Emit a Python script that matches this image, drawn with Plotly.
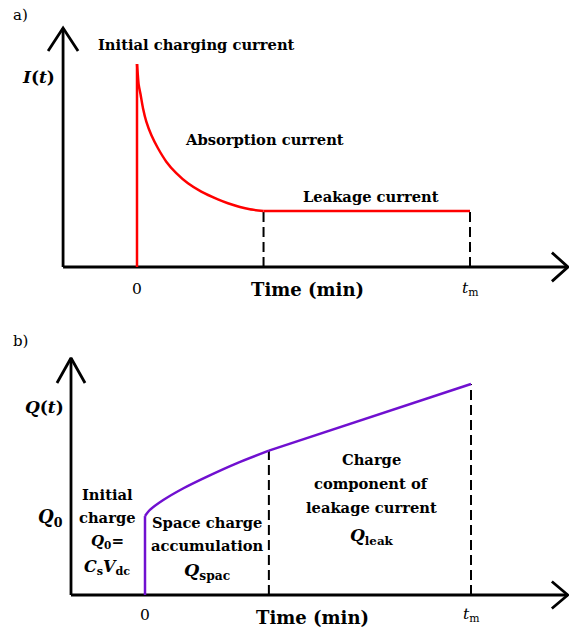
import plotly.graph_objects as go

# ---------------- data ----------------
# panel a: current vs time (arbitrary units, t_m = 10)
t_charge = [0, 0]
i_charge = [0, 10.0]
t_absorb = [0, 0.05, 0.11, 0.18, 0.28, 0.43, 0.63, 0.88, 1.18, 1.53, 1.93, 2.43, 2.73, 3.39, 3.8]
i_absorb = [10.0, 8.98, 8.47, 7.82, 7.16, 6.50, 5.85, 5.19, 4.62, 4.12, 3.71, 3.33, 3.14, 2.84, 2.76]
t_leak = [3.8, 10.0]
i_leak = [2.76, 2.76]

# panel b: charge vs time
t_q0 = [0, 0]
q_q0 = [0, 3.74]
t_spac = [0, 0.15, 0.56, 1.18, 1.89, 2.81, 3.8]
q_spac = [3.74, 4.03, 4.50, 5.06, 5.60, 6.24, 6.84]
t_qleak = [3.8, 10.0]
q_qleak = [6.84, 10.0]

tick_vals = [0, 10.0]
tick_labels = ["0", "<i>t</i><sub>m</sub>"]
x_title = "<b>Time (min)</b>"

W, H = 569, 630
FONT = "DejaVu Serif"

fig = go.Figure()

RED = "#FF0000"
PURPLE = "#7010D0"
DASH = "10px,5px"

def add(xa, ya, x, y, color, width=2.5, dash=None, shape="linear", smoothing=1):
    fig.add_trace(go.Scatter(
        x=x, y=y, xaxis=xa, yaxis=ya, mode="lines",
        line=dict(color=color, width=width, dash=dash, shape=shape, smoothing=smoothing),
        hoverinfo="skip", showlegend=False))

# ---- panel a axes (33.3 px per t unit, 20.3 px per I unit)
ax_a = -2.22
add("x", "y", [ax_a, 12.94], [0, 0], "black", 2.8)
add("x", "y", [ax_a, ax_a], [0, 11.77], "black", 2.8)
add("x", "y", [ax_a - 0.45, ax_a, ax_a + 0.45], [11.77 - 1.13, 11.77, 11.77 - 1.13], "black", 2.8)
add("x", "y", [12.94 - 0.48, 12.94, 12.94 - 0.48], [0.71, 0, -0.71], "black", 2.8)

add("x", "y", [t_leak[0], t_leak[0]], [0, i_leak[0]], "black", 2, DASH)
add("x", "y", [t_leak[1], t_leak[1]], [0, i_leak[1]], "black", 2, DASH)
add("x", "y", t_charge, i_charge, RED)
add("x", "y", t_absorb, i_absorb, RED, shape="spline", smoothing=0.4)
add("x", "y", t_leak, i_leak, RED)

# ---- panel b axes (32.6 px per t unit, 21.1 px per Q unit)
ax_b = -2.27
add("x2", "y2", [ax_b, 12.97], [0, 0], "black", 2.8)
add("x2", "y2", [ax_b, ax_b], [0, 11.23], "black", 2.8)
add("x2", "y2", [ax_b - 0.43, ax_b, ax_b + 0.43], [11.23 - 1.18, 11.23, 11.23 - 1.18], "black", 2.8)
add("x2", "y2", [12.97 - 0.49, 12.97, 12.97 - 0.49], [0.64, 0, -0.64], "black", 2.8)

add("x2", "y2", [t_spac[-1], t_spac[-1]], [0, q_spac[-1]], "black", 2, DASH)
add("x2", "y2", [t_qleak[1], t_qleak[1]], [0, q_qleak[1]], "black", 2, DASH)
add("x2", "y2", t_q0, q_q0, PURPLE)
add("x2", "y2", t_spac, q_spac, PURPLE, shape="spline", smoothing=0.6)
add("x2", "y2", t_qleak, q_qleak, PURPLE)

sa, sb = 33.3, 32.6
ia, ib = 20.3, 21.1
fig.update_layout(
    width=W, height=H, margin=dict(l=0, r=0, t=0, b=0),
    paper_bgcolor="white", plot_bgcolor="white",
    xaxis=dict(domain=[0, 1], range=[-137 / sa, (W - 137) / sa], visible=False),
    yaxis=dict(domain=[1 - 300 / H, 1], range=[(267 - 300) / ia, 267 / ia], visible=False),
    xaxis2=dict(domain=[0, 1], range=[-145 / sb, (W - 145) / sb], visible=False, anchor="y2"),
    yaxis2=dict(domain=[0, 1 - 310 / H], range=[(595 - 630) / ib, (595 - 310) / ib], visible=False, anchor="x2"),
    showlegend=False,
    font=dict(family=FONT),
)

def txt(px, py, s, size=14.7, xref="paper", x=None):
    fig.add_annotation(
        x=(px / W) if x is None else x, y=1 - py / H, xref=xref, yref="paper",
        text=s, showarrow=False, xanchor="center", yanchor="middle",
        font=dict(family=FONT, size=size, color="black"))

# panel a texts
txt(20, 15, "a)", 15)
txt(38, 77, "<b><i>I</i>(<i>t</i>)</b>", 17)
txt(196, 45, "<b>Initial charging current</b>")
txt(264, 139, "<b>Absorption current</b>")
txt(371, 196, "<b>Leakage current</b>")
for tv, tl in zip(tick_vals, tick_labels):
    txt(0, 289, tl, 15.5, xref="x", x=tv)
txt(307, 290, x_title, 18)

# panel b texts
txt(20, 341, "b)", 15)
txt(44, 407, "<b><i>Q</i>(<i>t</i>)</b>", 17)
txt(50, 518, "<b><i>Q</i><sub>0</sub></b>", 18)
txt(107, 494, "<b>Initial</b>")
txt(107, 517, "<b>charge</b>")
txt(107, 541, "<b><i>Q</i><sub>0</sub>=</b>", 15)
txt(107, 567, "<b><i>C</i><sub>s</sub><i>V</i><sub>dc</sub></b>", 16)
txt(207, 522, "<b>Space charge</b>")
txt(207, 545, "<b>accumulation</b>")
txt(207, 571, "<b><i>Q</i><sub>spac</sub></b>", 17.5)
txt(372, 459, "<b>Charge</b>")
txt(372, 483, "<b>component of</b>")
txt(372, 507, "<b>leakage current</b>")
txt(372, 536, "<b><i>Q</i><sub>leak</sub></b>", 17)
for tv, tl in zip(tick_vals, tick_labels):
    txt(0, 615, tl, 15.5, xref="x2", x=tv)
txt(312, 617, x_title, 18)

fig.write_html("out.html")
